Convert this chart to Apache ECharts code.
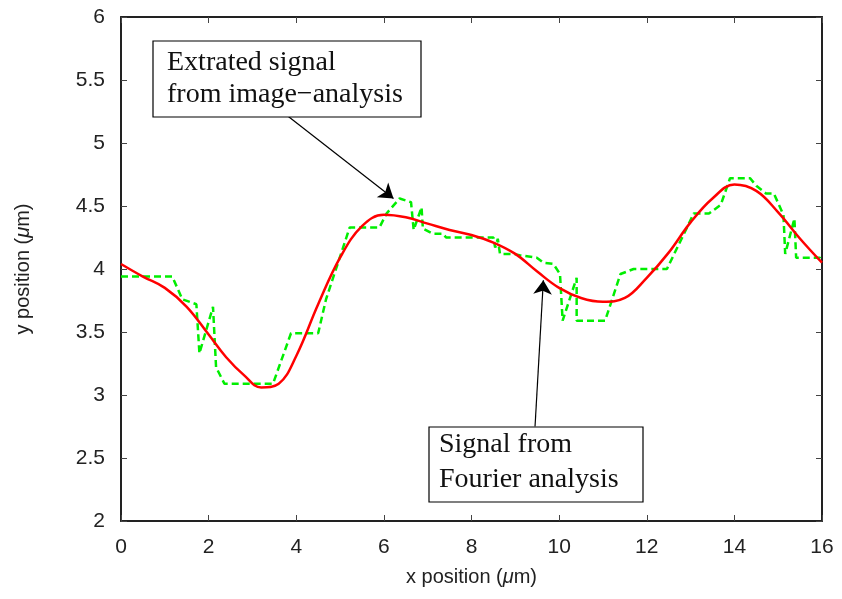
<!DOCTYPE html>
<html>
<head>
<meta charset="utf-8">
<script src="https://cdn.jsdelivr.net/npm/echarts@6/dist/echarts.min.js"></script>
<style>html,body{margin:0;padding:0;background:#fff}#c{width:842px;height:599px}</style>
</head>
<body>
<div id="c"></div>
<script>
// Fourier analysis signal (red)
const fourierX = [0,0.5,1,1.5,2,2.4,2.8,3.2,3.6,4,4.5,5,5.5,6,6.5,7,7.5,8,8.5,9,9.5,10,10.5,11,11.5,12,12.5,13,13.5,14,14.5,15,15.5,16];
const fourierY = [4.04,3.94,3.85,3.70,3.48,3.30,3.16,3.06,3.09,3.31,3.72,4.09,4.34,4.43,4.41,4.36,4.31,4.27,4.21,4.12,3.98,3.85,3.77,3.74,3.77,3.93,4.13,4.37,4.56,4.67,4.62,4.45,4.24,4.05];
// Extracted signal from image analysis (green dashed)
const imageX = [0,1.17,1.4,1.72,1.79,2.1,2.17,2.36,3.47,3.88,4.5,4.68,5.22,5.9,6.06,6.36,6.62,6.68,6.86,6.89,7.12,7.35,7.42,8.5,8.54,8.6,8.65,8.95,9.1,9.49,9.64,9.87,10.02,10.08,10.4,10.4,11.05,11.4,11.7,12.46,12.92,13.07,13.42,13.69,13.9,14.36,14.5,14.72,14.9,15.12,15.16,15.37,15.41,15.95,16];
const imageY = [3.94,3.94,3.76,3.72,3.33,3.70,3.22,3.09,3.09,3.49,3.49,3.76,4.33,4.33,4.44,4.56,4.53,4.31,4.49,4.32,4.28,4.28,4.25,4.25,4.17,4.24,4.12,4.12,4.11,4.09,4.05,4.04,3.96,3.59,3.93,3.59,3.59,3.96,4.0,4.0,4.33,4.44,4.44,4.51,4.72,4.72,4.66,4.60,4.60,4.43,4.12,4.40,4.09,4.09,4.06];
// Annotation arrows [startX, startY, tipX, tipY] in data units
const arrowImage = [3.82, 5.21, 6.22, 4.56];
const arrowFourier = [9.45, 2.75, 9.64, 3.91];
const xTicks = {min: 0, max: 16, interval: 2};
const yTicks = {min: 2, max: 6, interval: 0.5};

const fourier = fourierX.map((x, i) => [x, fourierY[i]]);
const image = imageX.map((x, i) => [x, imageY[i]]);

const chart = echarts.init(document.getElementById('c'));
const tickFont = {fontFamily: 'Liberation Sans', fontSize: 21, color: '#222'};
const baseX = {type: 'value', min: xTicks.min, max: xTicks.max, interval: xTicks.interval,
  splitLine: {show: false},
  axisLine: {show: true, onZero: false, lineStyle: {color: '#222', width: 2}},
  axisTick: {show: true, inside: true, length: 6, lineStyle: {color: '#444', width: 1}}};
const baseY = {type: 'value', min: yTicks.min, max: yTicks.max, interval: yTicks.interval,
  splitLine: {show: false},
  axisLine: {show: true, onZero: false, lineStyle: {color: '#222', width: 2}},
  axisTick: {show: true, inside: true, length: 6, lineStyle: {color: '#444', width: 1}}};

function arrowLine(a) {
  return [{coord: [a[0], a[1]], symbol: 'none'}, {coord: [a[2], a[3]], symbol: 'arrow'}];
}

chart.setOption({
  animation: false,
  grid: {left: 121, right: 20, top: 17, bottom: 78},
  xAxis: [
    Object.assign({}, baseX, {position: 'bottom',
      axisLabel: Object.assign({margin: 16}, tickFont),
      name: 'x position ({i|μ}m)', nameLocation: 'middle', nameGap: 46,
      nameTextStyle: {fontFamily: 'Liberation Sans', fontSize: 20, color: '#222',
        rich: {i: {fontFamily: 'Liberation Sans', fontSize: 20, fontStyle: 'italic', color: '#222'}}}}),
    Object.assign({}, baseX, {position: 'top', axisLabel: {show: false}})
  ],
  yAxis: [
    Object.assign({}, baseY, {position: 'left',
      axisLabel: Object.assign({margin: 16}, tickFont),
      name: 'y position ({i|μ}m)', nameLocation: 'middle', nameGap: 88,
      nameTextStyle: {fontFamily: 'Liberation Sans', fontSize: 20, color: '#222',
        rich: {i: {fontFamily: 'Liberation Sans', fontSize: 20, fontStyle: 'italic', color: '#222'}}}}),
    Object.assign({}, baseY, {position: 'right', axisLabel: {show: false}})
  ],
  series: [
    {type: 'line', name: 'Signal from Fourier analysis', data: fourier, smooth: 0.4,
      showSymbol: false, lineStyle: {color: '#ff0000', width: 2.5}, z: 3},
    {type: 'line', name: 'Extrated signal from image-analysis', data: image, smooth: false,
      showSymbol: false, lineStyle: {color: '#00ee00', width: 2.5, type: [7, 4]}, z: 2,
      markLine: {silent: true, animation: false, symbolSize: 14,
        lineStyle: {color: '#000', width: 1.2, type: 'solid'}, label: {show: false},
        data: [arrowLine(arrowImage), arrowLine(arrowFourier)]}}
  ],
  graphic: [
    {type: 'rect', shape: {x: 153, y: 41, width: 268, height: 76},
      style: {fill: '#fff', stroke: '#000', lineWidth: 1.2}, z: 10},
    {type: 'text', x: 167, y: 63, z: 11, style: {text: 'Extrated signal', font: '28px "Liberation Serif"', fill: '#111', verticalAlign: 'middle'}},
    {type: 'text', x: 167, y: 95, z: 11, style: {text: 'from image\u2212analysis', font: '28px "Liberation Serif"', fill: '#111', verticalAlign: 'middle'}},
    {type: 'rect', shape: {x: 429, y: 427, width: 214, height: 75},
      style: {fill: '#fff', stroke: '#000', lineWidth: 1.2}, z: 10},
    {type: 'text', x: 439, y: 445, z: 11, style: {text: 'Signal from', font: '28px "Liberation Serif"', fill: '#111', verticalAlign: 'middle'}},
    {type: 'text', x: 439, y: 480, z: 11, style: {text: 'Fourier analysis', font: '28px "Liberation Serif"', fill: '#111', verticalAlign: 'middle'}}
  ]
});
</script>
</body>
</html>
